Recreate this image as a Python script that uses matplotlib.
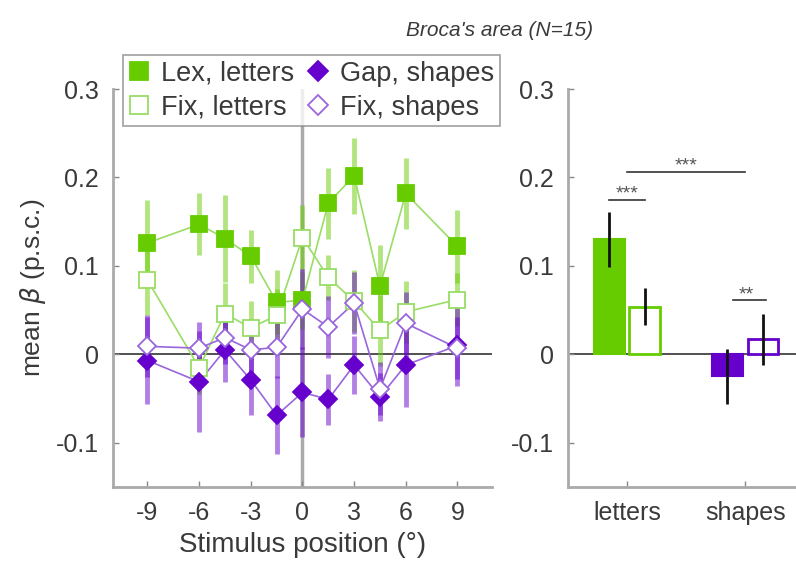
import numpy as np
import matplotlib
matplotlib.use('Agg')
import matplotlib.pyplot as plt

plt.rcParams['font.family'] = ['Liberation Sans', 'DejaVu Sans']
plt.rcParams['axes.unicode_minus'] = False

# ---------------- data ----------------
pos = [-9, -6, -4.5, -3, -1.5, 0, 1.5, 3, 4.5, 6, 9]

lex_let = [0.126, 0.147, 0.131, 0.111, 0.059, 0.061, 0.171, 0.202, 0.077, 0.182, 0.122]
lex_let_err = [0.048, 0.035, 0.049, 0.030, 0.036, 0.032, 0.040, 0.043, 0.047, 0.040, 0.041]

fix_let = [0.084, -0.015, 0.046, 0.030, 0.044, 0.132, 0.087, 0.060, 0.027, 0.048, 0.062]
fix_let_err = [0.040, 0.030, 0.035, 0.030, 0.030, 0.037, 0.025, 0.035, 0.040, 0.035, 0.030]

gap_shp = [-0.007, -0.031, 0.005, -0.029, -0.069, -0.043, -0.051, -0.012, -0.048, -0.012, 0.010]
gap_shp_err = [0.049, 0.057, 0.036, 0.040, 0.044, 0.051, 0.029, 0.033, 0.027, 0.048, 0.046]

fix_shp = [0.009, 0.007, 0.019, 0.005, 0.008, 0.051, 0.031, 0.058, -0.039, 0.035, 0.007]
fix_shp_err = [0.035, 0.030, 0.030, 0.035, 0.035, 0.045, 0.035, 0.035, 0.030, 0.035, 0.035]

cats = ['letters', 'shapes']
bar_main = [0.130, -0.025]
bar_main_err = [0.031, 0.031]
bar_fix = [0.054, 0.017]
bar_fix_err = [0.021, 0.029]

green = '#66cc00'
green_l = '#99dd66'
purple = '#6600cc'
purple_l = '#9966dd'
txt = '#3a3a3a'

fs = 18

fig = plt.figure(figsize=(7.96, 5.62), dpi=100)

# ---------------- left panel ----------------
ax1 = fig.add_axes([0.142, 0.1335, 0.476, 0.708])
ax1.axvline(0, color='#aaaaaa', lw=2.5, zorder=1)
ax1.axhline(0, color='#333333', lw=1.2, zorder=1)

def series(y, e, col, lcol, face, mk, ms, lab):
    ax1.errorbar(pos, y, yerr=e, fmt='none', ecolor=col, elinewidth=3.5, alpha=0.5, zorder=2)
    ax1.plot(pos, y, '-', color=lcol, lw=1.2, zorder=3)
    h, = ax1.plot(pos, y, mk, ms=ms, mfc=face, mec=lcol if face == 'white' else col,
                  mew=1.3, ls='none', zorder=4, label=lab)
    return h

h1 = series(lex_let, lex_let_err, green, green_l, green, 's', 12, 'Lex, letters')
h2 = series(fix_let, fix_let_err, green, green_l, 'white', 's', 12, 'Fix, letters')
h3 = series(gap_shp, gap_shp_err, purple, purple_l, purple, 'D', 9, 'Gap, shapes')
h4 = series(fix_shp, fix_shp_err, purple, purple_l, 'white', 'D', 9, 'Fix, shapes')

ax1.set_xlim(-11, 11)
ax1.set_ylim(-0.15, 0.3)
ax1.set_xticks([-9, -6, -3, 0, 3, 6, 9])
ax1.set_yticks([-0.1, 0, 0.1, 0.2, 0.3])
ax1.set_yticklabels(['-0.1', '0', '0.1', '0.2', '0.3'])
ax1.set_xlabel('Stimulus position (°)', fontsize=20, color=txt, labelpad=5)
ax1.set_ylabel(r'mean $\beta$ (p.s.c.)', fontsize=19, color=txt, labelpad=6)

leg = ax1.legend(handles=[h1, h2, h3, h4], ncol=2, loc='upper left',
                 bbox_to_anchor=(0.026, 1.085), fontsize=19.5, frameon=True,
                 fancybox=False, edgecolor='#888888', handlelength=0.8,
                 handletextpad=0.4, columnspacing=0.5, borderpad=0.2,
                 labelspacing=0.3, markerscale=1.1, borderaxespad=0)
leg.get_frame().set_linewidth(1.2)
for t in leg.get_texts():
    t.set_color(txt)

# ---------------- right panel ----------------
ax2 = fig.add_axes([0.7136, 0.1335, 0.2864, 0.708])
x = np.arange(len(cats))
w = 0.26
off = 0.15
ax2.axhline(0, color='#333333', lw=1.2, zorder=1)
ax2.bar(x[0] - off, bar_main[0], w, color=green, edgecolor=green, lw=1.5, zorder=2)
ax2.bar(x[0] + off, bar_fix[0], w, color='white', edgecolor=green, lw=2, zorder=2)
ax2.bar(x[1] - off, bar_main[1], w, color=purple, edgecolor=purple, lw=1.5, zorder=2)
ax2.bar(x[1] + off, bar_fix[1], w, color='white', edgecolor=purple, lw=2, zorder=2)
ax2.errorbar(x - off, bar_main, yerr=bar_main_err, fmt='none', ecolor='#111111', elinewidth=2, zorder=3)
ax2.errorbar(x + off, bar_fix, yerr=bar_fix_err, fmt='none', ecolor='#111111', elinewidth=2, zorder=3)

# significance markers
ax2.plot([x[0] - off, x[0] + off], [0.175, 0.175], color='#333333', lw=1.2)
ax2.text(x[0], 0.172, '***', ha='center', va='bottom', fontsize=14, color='#555555')
ax2.plot([x[0], x[1]], [0.206, 0.206], color='#333333', lw=1.2)
ax2.text(0.5, 0.203, '***', ha='center', va='bottom', fontsize=14, color='#555555')
ax2.plot([x[1] - off + 0.05, x[1] + off + 0.03], [0.061, 0.061], color='#333333', lw=1.2)
ax2.text(x[1] + 0.01, 0.058, '**', ha='center', va='bottom', fontsize=14, color='#555555')

ax2.set_xlim(-0.5, 1.43)
ax2.set_ylim(-0.15, 0.3)
ax2.set_xticks(x)
ax2.set_xticklabels(cats)
ax2.set_yticks([-0.1, 0, 0.1, 0.2, 0.3])
ax2.set_yticklabels(['-0.1', '0', '0.1', '0.2', '0.3'])

for ax in (ax1, ax2):
    for s in ('top', 'right'):
        ax.spines[s].set_visible(False)
    for s in ('left', 'bottom'):
        ax.spines[s].set_color('#aaaaaa')
        ax.spines[s].set_linewidth(2)
    ax.tick_params(direction='in', length=4, width=1, color='#888888',
                   labelsize=fs, labelcolor=txt, pad=10)

fig.text(0.628, 0.945, "Broca's area (N=15)", ha='center', va='center',
         fontsize=15, style='italic', color=txt)

plt.savefig('out.png', dpi=100)
